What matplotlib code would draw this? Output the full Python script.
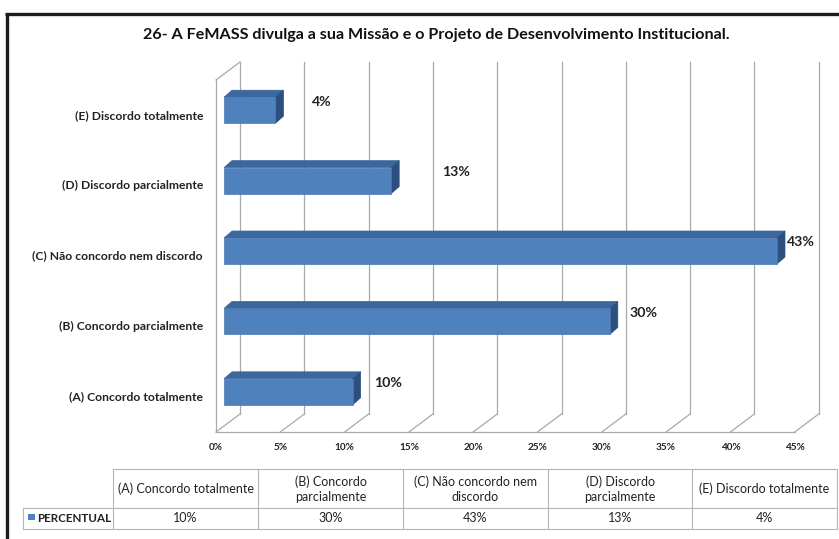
import matplotlib.pyplot as plt
from matplotlib.patches import Polygon, Rectangle

# dados do grafico
categorias = ["(A) Concordo totalmente", "(B) Concordo parcialmente",
              "(C) Não concordo nem discordo", "(D) Discordo parcialmente",
              "(E) Discordo totalmente"]
cabecalho_tabela = ["(A) Concordo totalmente", "(B) Concordo\nparcialmente",
                    "(C) Não concordo nem\ndiscordo", "(D) Discordo\nparcialmente",
                    "(E) Discordo totalmente"]
percentual = [10, 30, 43, 13, 4]
ticks_x = [0, 5, 10, 15, 20, 25, 30, 35, 40, 45]
titulo = "26- A FeMASS divulga a sua Missão e o Projeto de Desenvolvimento Institucional."
serie = "PERCENTUAL"

W, H, DPI = 839, 539, 100
plt.rcParams['font.family'] = ['Lato', 'DejaVu Sans']

fig = plt.figure(figsize=(W / DPI, H / DPI), dpi=DPI)

# eixo do fundo (moldura e tabela) em pixels
ov = fig.add_axes([0, 0, 1, 1])
ov.set_xlim(0, W)
ov.set_ylim(H, 0)
ov.axis('off')

# area do grafico
x0_px, x1_px, ytop_px, ybot_px = 216, 794.7, 80, 432
ax = fig.add_axes([x0_px / W, 1 - ybot_px / H, (x1_px - x0_px) / W, (ybot_px - ytop_px) / H])
ax.set_xlim(0, 45)
ax.set_ylim(-0.5, 4.5)
ax.axis('off')
ppx = (x1_px - x0_px) / 45.0
ppy = (ybot_px - ytop_px) / 5.0


def px(dx, dy):
    # pixels -> unidades de dados (dy positivo para cima)
    return dx / ppx, dy / ppy


cor_grade = '#a9a9a9'
fx, fy = px(24, 18)  # profundidade da parede
kw = dict(color=cor_grade, lw=0.9, clip_on=False)

# parede do fundo
for t in ticks_x:
    ax.plot([t + fx, t + fx], [-0.5 + fy, 4.5 + fy], **kw)
    ax.plot([t, t + fx], [-0.5, -0.5 + fy], **kw)
# parede lateral e piso
ax.plot([0, 0], [-0.5, 4.5], **kw)
ax.plot([0, fx], [4.5, 4.5 + fy], **kw)
ax.plot([0, 45], [-0.5, -0.5], **kw)

# barras 3D
bx, by = px(8, 5)
ex, ey = px(8, 7)
h = 26 / ppy
for i, v in enumerate(percentual):
    y0 = i - h / 2 + by
    y1 = i + h / 2 + by
    xa, xb = bx, v + bx
    ax.add_patch(Polygon([(xa, y1), (xb, y1), (xb + ex, y1 + ey), (xa + ex, y1 + ey)],
                         closed=True, fc='#3c679e', ec='#3c679e', lw=0.5, zorder=3,
                         clip_on=False))
    ax.add_patch(Polygon([(xb, y0), (xb + ex, y0 + ey), (xb + ex, y1 + ey), (xb, y1)],
                         closed=True, fc='#2c4f7f', ec='#2c4f7f', lw=0.5, zorder=3,
                         clip_on=False))
    ax.add_patch(Polygon([(xa, y0), (xb, y0), (xb, y1), (xa, y1)],
                         closed=True, fc='#4f81bd', ec='#4a79b2', lw=0.5, zorder=4,
                         clip_on=False))

# rotulos de valores
desloc_rotulo = [22, 20, 10, 51, 37]
for i, v in enumerate(percentual):
    dx, dy = px(desloc_rotulo[i], 13.5)
    ax.text(v + bx + dx, i + dy, f"{v}%", ha='left', va='center',
            fontsize=10.2, fontweight='bold', color='#222222', zorder=5)

# rotulos das categorias
for i, c in enumerate(categorias):
    dx, _ = px(13, 0)
    ax.text(-dx, i, c, ha='right', va='center', fontsize=8.7,
            fontweight='bold', color='#222222')

# rotulos do eixo x
_, dty = px(0, 16)
for t in ticks_x:
    ax.text(t, -0.5 - dty, f"{t}%", ha='center', va='center', fontsize=7.2,
            fontweight='bold', color='#222222')

# titulo
ov.text(W / 2 + 17, 35, titulo, ha='center', va='center', fontsize=11.6,
        fontweight='bold', color='#111111')

# moldura
ov.plot([5, W], [13.5, 13.5], color='#1c1c1c', lw=2.4, solid_capstyle='butt')
ov.plot([6.5, 6.5], [12.5, H], color='#1c1c1c', lw=2.4, solid_capstyle='butt')

# tabela
cols = [113, 258, 403, 548, 692, 837]
yh0, yh1, yd1 = 469, 508, 529
cor_tab = '#b5b5b5'
ov.plot([cols[0], cols[-1]], [yh0, yh0], color=cor_tab, lw=0.8)
ov.plot([23, cols[-1]], [yh1, yh1], color=cor_tab, lw=0.8)
ov.plot([23, cols[-1]], [yd1, yd1], color=cor_tab, lw=0.8)
ov.plot([23, 23], [yh1, yd1], color=cor_tab, lw=0.8)
for c in cols:
    ov.plot([c, c], [yh0, yd1], color=cor_tab, lw=0.8)
for j in range(len(percentual)):
    xc = (cols[j] + cols[j + 1]) / 2
    ov.text(xc, (yh0 + yh1) / 2 + 0.5, cabecalho_tabela[j], ha='center', va='center',
            fontsize=9, color='#222222', linespacing=1.3)
    ov.text(xc, (yh1 + yd1) / 2, f"{percentual[j]}%", ha='center', va='center',
            fontsize=9, color='#222222')
ov.add_patch(Rectangle((28, 514), 6.5, 5.5, fc='#4f81bd', ec='none'))
ov.text(37, (yh1 + yd1) / 2, serie, ha='left', va='center', fontsize=8.4,
        fontweight='bold', color='#222222')

fig.savefig('out.png', dpi=DPI)
